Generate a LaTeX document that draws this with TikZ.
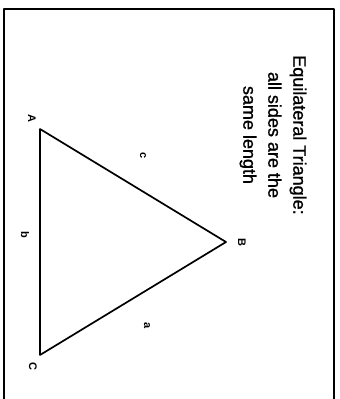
\documentclass[tikz,border=0pt]{standalone}
\usepackage{fontspec}
\setmainfont{Liberation Sans}
\newfontfamily\titlefont[FakeBold=1.2]{Liberation Sans}
\begin{document}
\begin{tikzpicture}[x=1pt,y=-1pt,line cap=round,line join=round,
  vertexlabel/.style={font=\bfseries\fontsize{11}{12}\selectfont,rotate=-90,inner sep=0pt},
  sidelabel/.style={font=\bfseries\fontsize{11}{12}\selectfont,rotate=-90,inner sep=0pt}]
  \useasboundingbox (0,0) rectangle (340,399);

  % The open frame around the slide (its bottom edge is cut off).
  \draw[line width=1.8pt] (4,399) -- (4,9) -- (334,9) -- (334,399);

  % Title, turned a quarter turn like the rest of the page.
  \node[rotate=-90,align=center,inner sep=0pt,
   font=\titlefont\fontsize{18}{25}\selectfont] (title) at (273,135)
   {Equilateral Triangle:\\all sides are the\\same length};

  % The triangle's corners.
  \coordinate (A) at (40,129);
  \coordinate (B) at (226,242);
  \coordinate (C) at (40,355);
  \draw[line width=1.7pt] (A) -- (B) -- (C) -- cycle;

  % Corner and side names.
  \node[vertexlabel] (labA) at (32,118) {A};
  \node[vertexlabel] (labB) at (242,242) {B};
  \node[vertexlabel] (labC) at (33,366) {C};
  \node[sidelabel] (labc) at (143,156) {c};
  \node[sidelabel] (labb) at (25,235) {b};
  \node[sidelabel] (laba) at (147,326) {a};
 \end{tikzpicture}
\end{document}
